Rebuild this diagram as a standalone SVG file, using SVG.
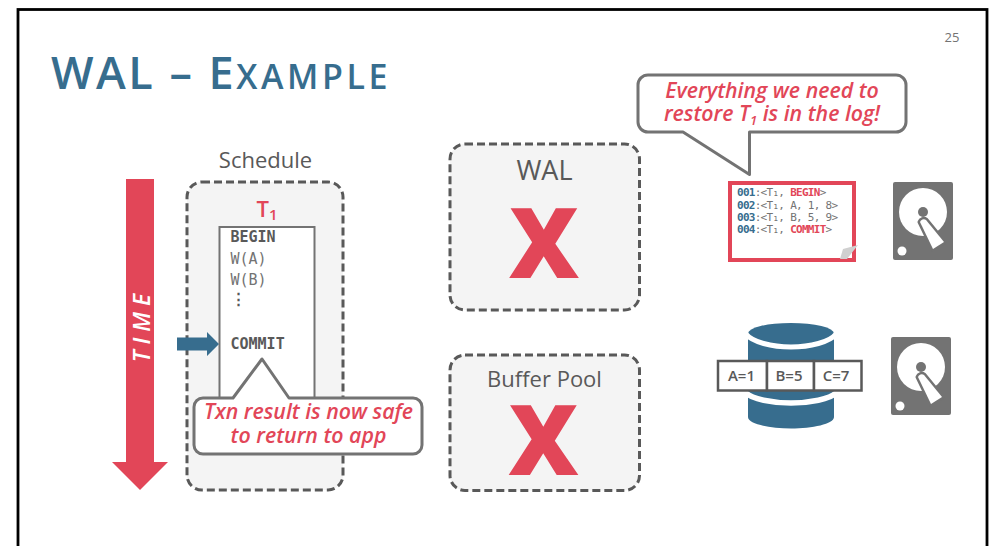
<svg xmlns="http://www.w3.org/2000/svg" width="997" height="546" viewBox="0 0 997 546">
<style>
text{font-family:"Open Sans","Noto Sans",sans-serif}
.box{fill:#f4f4f4;stroke:#595959;stroke-width:3;stroke-dasharray:8 4}
.lab{fill:#595959;text-anchor:middle}
.red{fill:#e24658}
.x{fill:#e24658;font-weight:800;font-size:97px;text-anchor:middle}
text.mono{font-family:"DejaVu Sans Mono",monospace;font-size:15px;fill:#737373}
text.monob{font-family:"DejaVu Sans Mono",monospace;font-size:15px;fill:#595959;font-weight:700}
.call{fill:#fff;stroke:#737373;stroke-width:3;stroke-linejoin:round}
.ci{fill:#e24658;font-style:italic;font-weight:600;text-anchor:middle;font-size:21.300px}
text.logl{font-size:11px;letter-spacing:-0.720px;fill:#737373;font-family:"DejaVu Sans Mono",monospace}
.b{fill:#376d8e;font-weight:700}
.r{fill:#e24658;font-weight:700}
.cell{fill:#fff;stroke:#595959;stroke-width:2.500}
.ct{fill:#595959;font-weight:600;font-size:15px;text-anchor:middle}
.hd{fill:#737373}
</style>
<defs>
<g id="disk">
<rect x="0" y="0" width="60" height="78" rx="2" class="hd"/>
<circle cx="30" cy="30" r="24" fill="#fff"/>
<path d="M27 40a4 4 0 0 1 6-2l18 22-11 7z" fill="#fff" stroke="#737373" stroke-width="5" stroke-linejoin="round"/>
<path d="M27 40a4 4 0 0 1 6-2l18 22-11 7z" fill="#fff"/>
<circle cx="30" cy="30" r="5" class="hd"/>
<circle cx="9" cy="69" r="4.500" fill="#fff"/>
</g>
</defs>
<rect x="18" y="9.500" width="969" height="560" fill="#fff" stroke="#000" stroke-width="2.800"/>
<text x="952" y="42" font-size="13" fill="#737373" text-anchor="middle">25</text>
<text x="51" y="89" fill="#376d8e" font-weight="600" font-size="45" letter-spacing="2.500">WAL – E<tspan font-size="34" letter-spacing="3.600">XAMPLE</tspan></text>

<g id="time-arrow">
<path class="red" d="M126 179h28v283h14l-28 28-28-28h14z"/>
<text transform="translate(150,325) rotate(-90)" fill="#fff" font-style="italic" font-weight="600" font-size="23" letter-spacing="6" text-anchor="middle">TIME</text>
</g>

<g id="schedule">
<text x="265.500" y="168" class="lab" font-size="22">Schedule</text>
<rect x="187" y="182" width="156" height="308" rx="15" class="box"/>
<text x="256.500" y="217" fill="#e24658" font-size="22" font-weight="600">T<tspan font-size="15" dy="3">1</tspan></text>
<rect x="219.500" y="227" width="95" height="200" fill="#fff" stroke="#737373" stroke-width="2"/>
<text x="230.500" y="242" class="monob">BEGIN</text>
<text x="230.500" y="264" class="mono">W(A)</text>
<text x="230.500" y="285" class="mono">W(B)</text>
<text x="230.500" y="304" class="monob">⋮</text>
<text x="230.500" y="349" class="monob">COMMIT</text>
</g>

<g id="connectors">
<path fill="#376d8e" d="M177 337.500h30v-5.500l12 12-12 12v-5.500h-30z"/>
</g>

<g id="callout-txn">
<path class="call" d="M203 398H233L262 359L289 398H413a9 9 0 0 1 9 9V445a9 9 0 0 1-9 9H203a9 9 0 0 1-9-9V407a9 9 0 0 1 9-9z"/>
<text x="308.500" y="419" class="ci">Txn result is now safe</text>
<text x="308.500" y="443" class="ci">to return to app</text>
</g>

<g id="wal">
<rect x="450" y="144" width="189.500" height="166" rx="15" class="box"/>
<text x="544.500" y="180" class="lab" font-size="27">WAL</text>
<text x="544" y="278" class="x">X</text>
</g>

<g id="buffer-pool">
<rect x="450" y="355" width="189.500" height="135.500" rx="15" class="box"/>
<text x="544.500" y="387" class="lab" font-size="22">Buffer Pool</text>
<text x="543.500" y="475" class="x">X</text>
</g>

<g id="callout-log">
<path class="call" d="M648 75H896a10 10 0 0 1 10 10V122a10 10 0 0 1-10 10H749.500V174.500L683 132H648a10 10 0 0 1-10-10V85a10 10 0 0 1 10-10z"/>
<text x="772" y="98" class="ci">Everything we need to</text>
<text x="772" y="121" class="ci">restore T<tspan font-size="13" dy="4">1</tspan><tspan dy="-4"> is in the log!</tspan></text>
</g>

<g id="log-file">
<rect x="730" y="183" width="124" height="77" fill="#fff" stroke="#e24658" stroke-width="4"/>
<path d="M840 259l3-10 15-4-11 14z" fill="#d0d0d0"/>
<text x="737" y="196" class="logl"><tspan class="b">001</tspan>:&lt;T₁, <tspan class="r">BEGIN</tspan>&gt;</text>
<text x="737" y="209" class="logl"><tspan class="b">002</tspan>:&lt;T₁, A, 1, 8&gt;</text>
<text x="737" y="221" class="logl"><tspan class="b">003</tspan>:&lt;T₁, B, 5, 9&gt;</text>
<text x="737" y="233" class="logl"><tspan class="b">004</tspan>:&lt;T₁, <tspan class="r">COMMIT</tspan>&gt;</text>
</g>

<g id="disk-log"><use href="#disk" x="893" y="182"/></g>

<g id="database">
<path fill="#376d8e" d="M748 334V417C748 424 770 428.500 791 428.500S834 424 834 417V334z"/>
<ellipse cx="791" cy="333.500" rx="43" ry="10.500" fill="#376d8e"/>
<path d="M746 334C752 342 772 347 791 347S830 342 836 334" fill="none" stroke="#fff" stroke-width="5"/>
<path d="M746 393C752 399 772 403 791 403S830 399 836 393" fill="none" stroke="#fff" stroke-width="5.500"/>
<rect x="718" y="361" width="49" height="29.500" class="cell"/>
<rect x="767" y="361" width="47" height="29.500" class="cell"/>
<rect x="814" y="361" width="47.500" height="29.500" class="cell"/>
<text x="741.500" y="381" class="ct">A=1</text>
<text x="789" y="381" class="ct">B=5</text>
<text x="836" y="381" class="ct">C=7</text>
</g>

<g id="disk-db"><use href="#disk" x="891" y="337" /></g>
</svg>
